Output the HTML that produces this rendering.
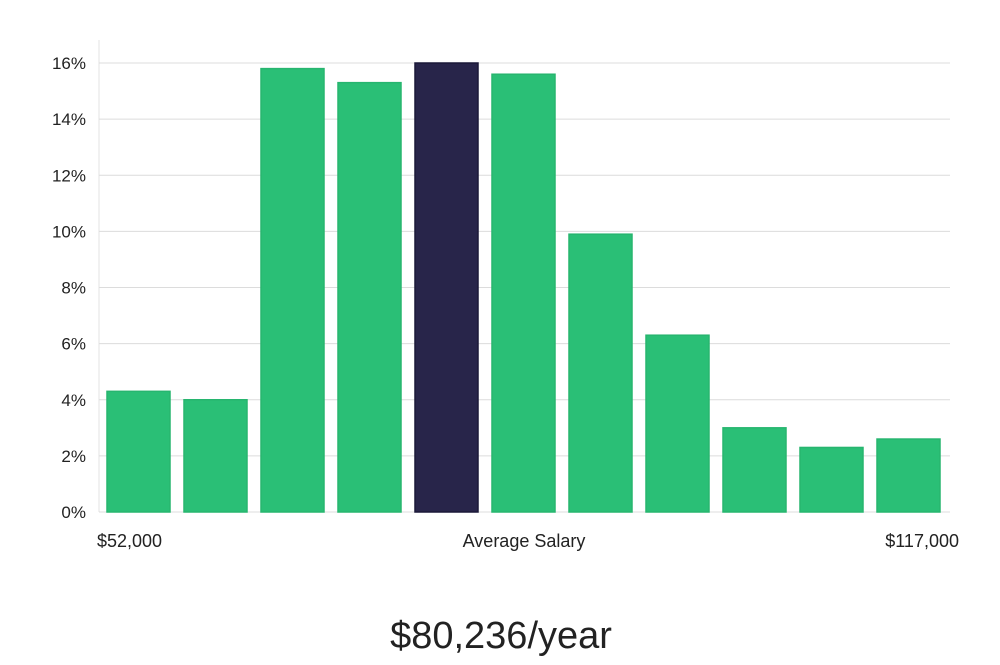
<!DOCTYPE html>
<html><head><meta charset="utf-8"><style>
body{margin:0;background:#fff;width:1000px;height:660px;overflow:hidden;font-family:"Liberation Sans","DejaVu Sans",sans-serif}
</style></head><body>
<svg id="chart" width="1000" height="660" xmlns="http://www.w3.org/2000/svg"></svg>
<script>
const categories=["b1","b2","b3","b4","b5","b6","b7","b8","b9","b10","b11"];
const values=[4.3,4.0,15.8,15.3,16.0,15.6,9.9,6.3,3.0,2.3,2.6];
const highlightIndex=4;
const yTicks=[0,2,4,6,8,10,12,14,16];
const xLabels=["$52,000","Average Salary","$117,000"];
const title="$80,236/year";

const svg=document.getElementById('chart');
const NS="http://www.w3.org/2000/svg";
const x0=99,x1=950,y0=512,yTop=63,yMaxVal=16;
const y=v=>y0-(v/yMaxVal)*(y0-yTop);
const step=(x1-x0-4)/categories.length;
const bx=i=>x0+8+i*step;
const bw=63;
function mk(t,a,txt){const e=document.createElementNS(NS,t);for(const k in a)e.setAttribute(k,a[k]);if(txt!=null)e.textContent=txt;svg.appendChild(e);return e;}

const gl=mk('line',{x1:x0,y1:40,x2:x0,y2:y0,stroke:'#e3e3e3','stroke-width':1});


yTicks.forEach(t=>{
  const l=mk('line',{x1:x0,y1:y(t),x2:x1,y2:y(t),stroke:'#dcdcdc','stroke-width':1});
  
  
  const tx=mk('text',{x:86,y:y(t)+6,'text-anchor':'end','font-size':17,fill:'#222'},t+'%');
  
  
});
values.forEach((v,i)=>{
  const hi=i===highlightIndex;
  const r=mk('rect',{x:bx(i),y:y(v),width:bw,height:y0-y(v),fill:hi?'#28254a':'#2abf76',stroke:hi?'#1a1838':'#27b56f','stroke-width':1.5});
  
  
});
const xl=[[97,'start'],[524,'middle'],[959,'end']];
xLabels.forEach((s,i)=>{
  const t=mk('text',{x:xl[i][0],y:547,'text-anchor':xl[i][1],'font-size':18,fill:'#222'},s);
  
  
});
const tt=mk('text',{x:501,y:648,'text-anchor':'middle','font-size':38,fill:'#222','font-weight':'300'},title);


</script>
</body></html>
